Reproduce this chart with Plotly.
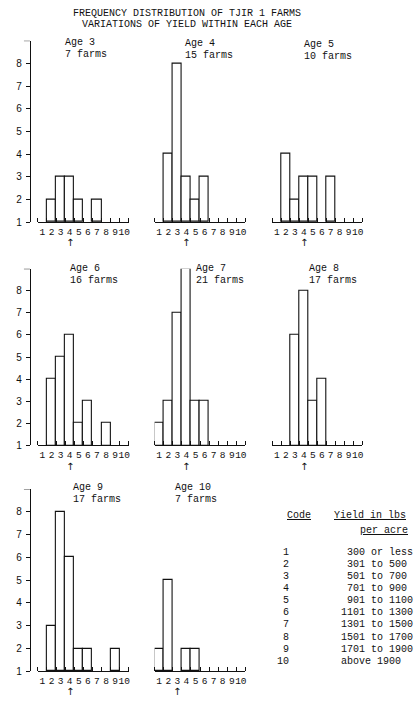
import plotly.graph_objects as go

# ---------------- data ----------------
ages = [3, 4, 5, 6, 7, 8, 9, 10]
farms = [7, 15, 10, 16, 21, 17, 17, 7]
codes_age3 = [2, 3, 4, 5, 7];        counts_age3 = [1, 2, 2, 1, 1]
codes_age4 = [2, 3, 4, 5, 6];        counts_age4 = [3, 7, 2, 1, 2]
codes_age5 = [2, 3, 4, 5, 7];        counts_age5 = [3, 1, 2, 2, 2]
codes_age6 = [2, 3, 4, 5, 6, 8];     counts_age6 = [3, 4, 5, 1, 2, 1]
codes_age7 = [1, 2, 3, 4, 5, 6];     counts_age7 = [1, 2, 6, 8, 2, 2]
codes_age8 = [3, 4, 5, 6];           counts_age8 = [5, 7, 2, 3]
codes_age9 = [2, 3, 4, 5, 6, 9];     counts_age9 = [2, 7, 5, 1, 1, 1]
codes_age10 = [1, 2, 4, 5];          counts_age10 = [1, 4, 1, 1]
arrow_codes = [4, 4, 4, 4, 4, 4, 4, 3]
code_labels = ["1", "2", "3", "4", "5", "6", "7", "8", "9", "10"]
y_tick_labels = ["1", "2", "3", "4", "5", "6", "7", "8"]
table_codes = ["1", "2", "3", "4", "5", "6", "7", "8", "9", "10"]
yield_ranges = ["300 or less", "301 to 500", "501 to 700", "701 to 900", "901 to 1100",
                "1101 to 1300", "1301 to 1500", "1501 to 1700", "1701 to 1900", "above 1900"]
title_lines = ["FREQUENCY DISTRIBUTION OF TJIR 1 FARMS", "VARIATIONS OF YIELD WITHIN EACH AGE"]
table_header = ["Code", "Yield in lbs", "per acre"]

panel_codes = [codes_age3, codes_age4, codes_age5, codes_age6, codes_age7, codes_age8, codes_age9, codes_age10]
panel_counts = [counts_age3, counts_age4, counts_age5, counts_age6, counts_age7, counts_age8, counts_age9, counts_age10]

# ---------------- layout geometry ----------------
W, H = 414, 720
INK = "#111111"
MONO = "Liberation Mono, DejaVu Sans Mono, monospace"
SANS = "Liberation Sans, Arial, sans-serif"

col_px = [(38, 129), (155, 246), (273, 363)]
row_px = [(224, 41), (449, 271), (677, 493)]   # (baseline px, top px)
panel_pos = [(0, 0), (0, 1), (0, 2), (1, 0), (1, 1), (1, 2), (2, 0), (2, 1)]
label_pos = [(63, 43), (183, 44), (303, 45), (68, 271), (194, 271), (308, 271), (71, 492), (173, 492)]
arrow_y = [245, 470, 697]

def px(x):
    return x / W

def py(y):
    return 1 - y / H

fig = go.Figure()
layout = dict(
    width=W, height=H, autosize=False,
    margin=dict(l=0, r=0, t=0, b=0),
    paper_bgcolor="white", plot_bgcolor="rgba(0,0,0,0)",
    showlegend=False, bargap=0,
)

# y axes: one per row
for r, (base_px, top_px) in enumerate(row_px):
    name = "yaxis" if r == 0 else f"yaxis{r + 1}"
    layout[name] = dict(
        domain=[py(base_px), py(top_px)], range=[1, 9], anchor="free", position=px(30),
        showline=True, linecolor=INK, linewidth=1, ticks="outside", ticklen=4,
        tickcolor=INK, tickwidth=1, tickvals=list(range(1, 9)), ticktext=y_tick_labels,
        tickfont=dict(family=SANS, size=10, color=INK), ticklabelstandoff=2,
        showgrid=False, zeroline=False, fixedrange=True,
    )

annotations = []
shapes = []
for i, (r, c) in enumerate(panel_pos):
    xa = "x" if i == 0 else f"x{i + 1}"
    ya = "y" if r == 0 else f"y{r + 1}"
    xname = "xaxis" if i == 0 else f"xaxis{i + 1}"
    layout[xname] = dict(
        domain=[px(col_px[c][0]), px(col_px[c][1])], range=[0.5, 10.5], anchor=ya,
        showline=True, linecolor=INK, linewidth=1, ticks="", tickangle=0,
        tickvals=list(range(1, 11)), ticktext=code_labels,
        tickfont=dict(family=MONO, size=9.5, color=INK),
        minor=dict(tickvals=[k + 0.5 for k in range(0, 11)], ticks="inside", ticklen=4,
                   tickcolor=INK, tickwidth=1, showgrid=False),
        showgrid=False, zeroline=False, fixedrange=True,
    )
    fig.add_trace(go.Bar(
        x=panel_codes[i], y=panel_counts[i], base=1, width=1,
        marker=dict(color="white", line=dict(color=INK, width=1.1)),
        xaxis=xa, yaxis=ya, cliponaxis=False, hoverinfo="skip",
    ))
    annotations.append(dict(
        x=arrow_codes[i], xref=xa, y=py(arrow_y[r]), yref="paper", text="↑",
        showarrow=False, font=dict(family="DejaVu Sans", size=10, color=INK),
        xanchor="center", yanchor="middle",
    ))
    lx, ly = label_pos[i]
    annotations.append(dict(x=px(lx), y=py(ly), xref="paper", yref="paper",
                            text=f"Age {ages[i]}", showarrow=False, xanchor="left", yanchor="middle",
                            font=dict(family=MONO, size=10, color=INK)))
    annotations.append(dict(x=px(lx), y=py(ly + 12), xref="paper", yref="paper",
                            text=f"{farms[i]} farms", showarrow=False, xanchor="left", yanchor="middle",
                            font=dict(family=MONO, size=10, color=INK)))

# hooks at top of y axes
for r, (base_px, top_px) in enumerate(row_px):
    ya = "y" if r == 0 else f"y{r + 1}"
    shapes.append(dict(type="line", xref="paper", yref=ya, x0=px(24), x1=px(30), y0=9, y1=9,
                       line=dict(color=INK, width=1)))

# titles
for t, y in zip(title_lines, [14, 25]):
    annotations.append(dict(x=px(187), y=py(y), xref="paper", yref="paper", text=t,
                            showarrow=False, xanchor="center", yanchor="middle",
                            font=dict(family=MONO, size=10, color=INK)))

# code table
annotations.append(dict(x=px(286), y=py(520), xref="paper", yref="paper", text=f"<u>{table_header[0]}</u>",
                        showarrow=False, xanchor="left", yanchor="middle",
                        font=dict(family=MONO, size=10, color=INK)))
annotations.append(dict(x=px(333), y=py(520), xref="paper", yref="paper", text=f"<u>{table_header[1]}</u>",
                        showarrow=False, xanchor="left", yanchor="middle",
                        font=dict(family=MONO, size=10, color=INK)))
annotations.append(dict(x=px(411), y=py(535), xref="paper", yref="paper", text=f"<u>{table_header[2]}</u>",
                        showarrow=False, xanchor="right", yanchor="middle",
                        font=dict(family=MONO, size=10, color=INK)))
for k, (cd, yr) in enumerate(zip(table_codes, yield_ranges)):
    y = 557 + 12.2 * k
    annotations.append(dict(x=px(292), y=py(y), xref="paper", yref="paper", text=cd,
                            showarrow=False, xanchor="right", yanchor="middle",
                            font=dict(family=MONO, size=10, color=INK)))
    annotations.append(dict(x=px(346 if k < 5 else 340), y=py(y), xref="paper", yref="paper", text=yr,
                            showarrow=False, xanchor="left", yanchor="middle",
                            font=dict(family=MONO, size=10, color=INK)))

layout["annotations"] = annotations
layout["shapes"] = shapes
fig.update_layout(**layout)
fig.write_html("out.html", config={"displayModeBar": False})
